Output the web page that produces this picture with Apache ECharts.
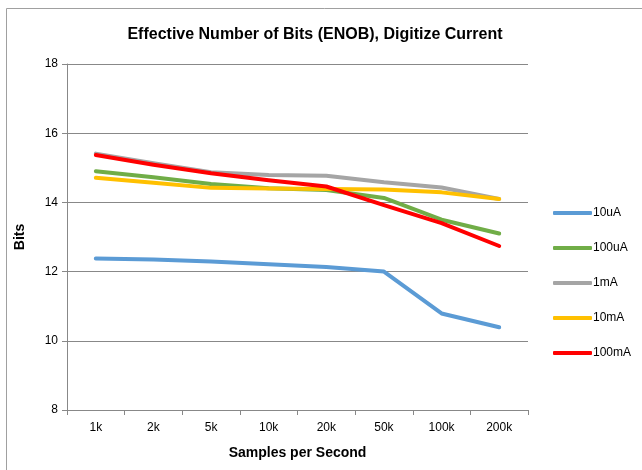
<!DOCTYPE html>
<html>
<head>
<meta charset="utf-8">
<script src="https://cdn.jsdelivr.net/npm/echarts@6/dist/echarts.min.js"></script>
<style>
html,body{margin:0;padding:0;background:#fff;}
#chart{width:642px;height:470px;}
</style>
</head>
<body>
<div id="chart"></div>
<script>
var categories = ['1k','2k','5k','10k','20k','50k','100k','200k'];
var s10uA  = [12.38, 12.35, 12.29, 12.21, 12.13, 12.00, 10.79, 10.39];
var s100uA = [14.90, 14.73, 14.53, 14.41, 14.36, 14.13, 13.50, 13.10];
var s1mA   = [15.41, 15.13, 14.87, 14.79, 14.77, 14.58, 14.43, 14.10];
var s10mA  = [14.71, 14.57, 14.42, 14.40, 14.39, 14.37, 14.29, 14.10];
var s100mA = [15.37, 15.09, 14.84, 14.64, 14.46, 13.92, 13.40, 12.74];
var seriesNames = ['10uA','100uA','1mA','10mA','100mA'];
var seriesData = [s10uA, s100uA, s1mA, s10mA, s100mA];
var colors = ['#5B9BD5','#70AD47','#A5A5A5','#FFC000','#FF0000'];

var font = '"Liberation Sans", Arial, Helvetica, sans-serif';
var chart = echarts.init(document.getElementById('chart'));
var series = seriesNames.map(function(n, i){
  return {
    name: n, type: 'line', data: seriesData[i],
    symbol: 'none', smooth: false,
    lineStyle: {width: 4, color: colors[i], cap: 'round', join: 'round'},
    itemStyle: {color: colors[i]},
    z: 2 + i
  };
});
chart.setOption({
  animation: false,
  color: colors,
  title: {
    text: 'Effective Number of Bits (ENOB), Digitize Current',
    left: 310, top: 22, textAlign: 'center',
    textStyle: {fontFamily: font, fontSize: 16, fontWeight: 'bold', color: '#000'}
  },
  graphic: [{
    type: 'rect', silent: true,
    shape: {x: 6.5, y: 8.5, width: 700, height: 500},
    style: {fill: 'none', stroke: '#a0a0a0', lineWidth: 1}
  }],
  legend: {
    orient: 'vertical', left: 548, top: 202,
    itemWidth: 39, itemHeight: 4, itemGap: 23,
    icon: 'roundRect',
    textStyle: {fontFamily: font, fontSize: 12, color: '#000', padding: [0,0,0,-4]},
    data: seriesNames
  },
  grid: {left: 67, right: 114, top: 64, bottom: 60},
  xAxis: {
    type: 'category', data: categories, boundaryGap: true,
    name: 'Samples per Second', nameLocation: 'middle', nameGap: 36,
    nameTextStyle: {fontFamily: font, fontSize: 14, fontWeight: 'bold', color: '#000'},
    axisLine: {lineStyle: {color: '#888'}},
    axisTick: {show: true, length: 5, lineStyle: {color: '#888'}},
    axisLabel: {fontFamily: font, fontSize: 12, color: '#000', margin: 12}
  },
  yAxis: {
    type: 'value', min: 8, max: 18, interval: 2,
    name: 'Bits', nameLocation: 'middle', nameGap: 40,
    nameTextStyle: {fontFamily: font, fontSize: 14, fontWeight: 'bold', color: '#000'},
    axisLine: {show: true, lineStyle: {color: '#888'}},
    axisTick: {show: true, length: 5, lineStyle: {color: '#888'}},
    axisLabel: {fontFamily: font, fontSize: 12, color: '#000', margin: 9},
    splitLine: {lineStyle: {color: '#888', width: 1}}
  },
  series: series
});
</script>
</body>
</html>
